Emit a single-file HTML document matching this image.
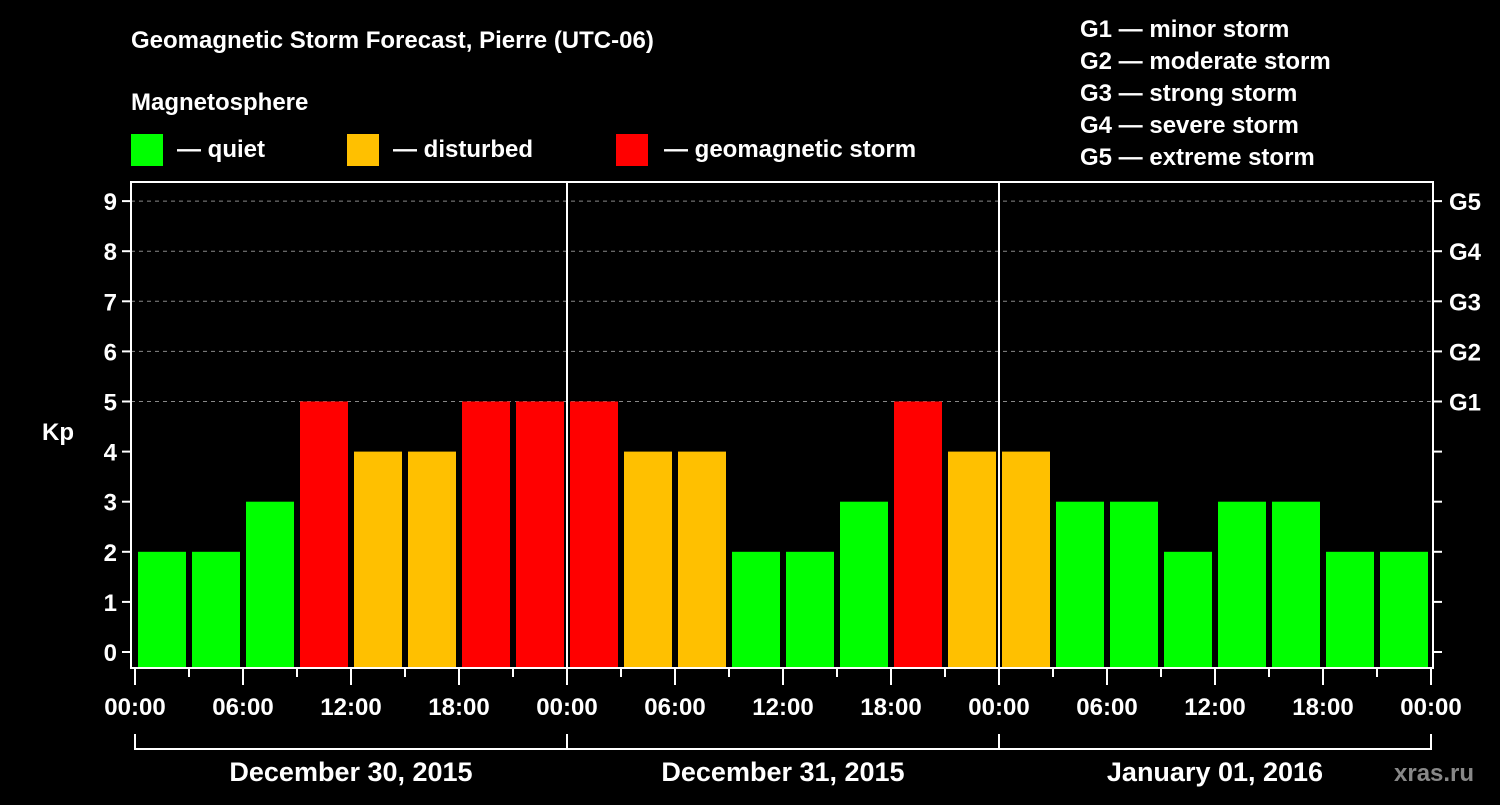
<!DOCTYPE html>
<html><head><meta charset="utf-8"><style>
html,body{margin:0;padding:0;background:#000;}
svg text{font-family:"Liberation Sans",Arial,sans-serif;font-weight:bold;fill:#fff;}
</style></head><body>
<svg id="chart" width="1500" height="800" xmlns="http://www.w3.org/2000/svg">
<rect width="1500" height="800" fill="#000"/>
<text x="131" y="48" font-size="24">Geomagnetic Storm Forecast, Pierre (UTC-06)</text>
<text x="131" y="110" font-size="24">Magnetosphere</text>
<g><rect x="131" y="134" width="32" height="32" fill="#00ff00"/><text x="177" y="157" font-size="24">— quiet</text></g>
<g><rect x="347" y="134" width="32" height="32" fill="#ffc000"/><text x="393" y="157" font-size="24">— disturbed</text></g>
<g><rect x="616" y="134" width="32" height="32" fill="#ff0000"/><text x="664" y="157" font-size="24">— geomagnetic storm</text></g>
<g font-size="24">
<text x="1080" y="37">G1 — minor storm</text>
<text x="1080" y="69">G2 — moderate storm</text>
<text x="1080" y="101">G3 — strong storm</text>
<text x="1080" y="133">G4 — severe storm</text>
<text x="1080" y="165">G5 — extreme storm</text>
</g>
<g id="grid"></g>
<g id="bars"></g>
<g id="axes"></g>
<text x="42" y="440" font-size="24">Kp</text>
<text x="1394" y="781" font-size="24" fill="#888" style="fill:#888">xras.ru</text>
</svg>
<script>
const kpValues = [2,2,3,5,4,4,5,5, 5,4,4,2,2,3,5,4, 4,3,3,2,3,3,2,2];
const dayLabels = ["December 30, 2015","December 31, 2015","January 01, 2016"];
const hourLabels = ["00:00","06:00","12:00","18:00"];
const gLabels = ["G1","G2","G3","G4","G5"];
const yTicks = [0,1,2,3,4,5,6,7,8,9];

const NS="http://www.w3.org/2000/svg";
const X0=135, SLOT=54, Y0=652, UNIT=50.1, PL=131, PR=1433, PT=182, PB=668;
const xScale = h => X0 + h*(SLOT/3);      // hours since start
const yScale = v => Y0 - v*UNIT;
function mk(tag, attrs, parent){const e=document.createElementNS(NS,tag);for(const k in attrs)e.setAttribute(k,attrs[k]);parent.appendChild(e);return e;}
const grid=document.getElementById('grid'), bars=document.getElementById('bars'), axes=document.getElementById('axes');

// dashed grid for Kp 5..9
for(let v=5; v<=9; v++){
  const l=mk('line',{x1:PL,x2:PR,y1:yScale(v),y2:yScale(v),stroke:'#888','stroke-dasharray':'4,4','stroke-width':1},grid);
  
  
}
// bars
kpValues.forEach((v,i)=>{
  const color = v>=5 ? '#ff0000' : (v>=4 ? '#ffc000' : '#00ff00');
  const x = xScale(i*3)+3;
  const r=mk('rect',{x:x,y:yScale(v),width:SLOT-6,height:PB-1-yScale(v),fill:color},bars);
  
  
});
// frame
const fr=mk('rect',{x:PL,y:PT,width:PR-PL,height:PB-PT,fill:'none',stroke:'#fff','stroke-width':2},axes);


// day separators
for(let d=1; d<dayLabels.length; d++){
  const x=xScale(d*24);
  const l=mk('line',{x1:x,x2:x,y1:PT,y2:PB,stroke:'#fff','stroke-width':2},axes);
  
  
}
// y ticks and labels
yTicks.forEach(v=>{
  const y=yScale(v);
  mk('line',{x1:PL-9,x2:PL,y1:y,y2:y,stroke:'#fff','stroke-width':2},axes);
  mk('line',{x1:PR,x2:PR+9,y1:y,y2:y,stroke:'#fff','stroke-width':2},axes);
  const t=mk('text',{x:PL-14,y:y+9,'font-size':24,'text-anchor':'end'},axes);
  t.textContent=v;
  
  
});
gLabels.forEach((g,i)=>{
  const t=mk('text',{x:PR+16,y:yScale(5+i)+9,'font-size':24},axes);
  t.textContent=g;
  
  
});
// x ticks
const totalH = dayLabels.length*24;
for(let h=0; h<=totalH; h+=3){
  const x=xScale(h), major = h%6===0;
  mk('line',{x1:x,x2:x,y1:PB,y2:PB+(major?17:9),stroke:'#fff','stroke-width':2},axes);
  if(major){
    const t=mk('text',{x:x,y:715,'font-size':24,'text-anchor':'middle'},axes);
    t.textContent=hourLabels[(h/6)%4];
    
    
  }
}
// day brackets & labels
mk('line',{x1:xScale(0),x2:xScale(totalH),y1:749,y2:749,stroke:'#fff','stroke-width':2},axes);
for(let d=0; d<=dayLabels.length; d++){
  const x=xScale(d*24);
  mk('line',{x1:x,x2:x,y1:734,y2:750,stroke:'#fff','stroke-width':2},axes);
}
dayLabels.forEach((lab,d)=>{
  const t=mk('text',{x:xScale(d*24+12),y:781,'font-size':27,'text-anchor':'middle'},axes);
  t.textContent=lab;
  
  
});
</script>
</body></html>
